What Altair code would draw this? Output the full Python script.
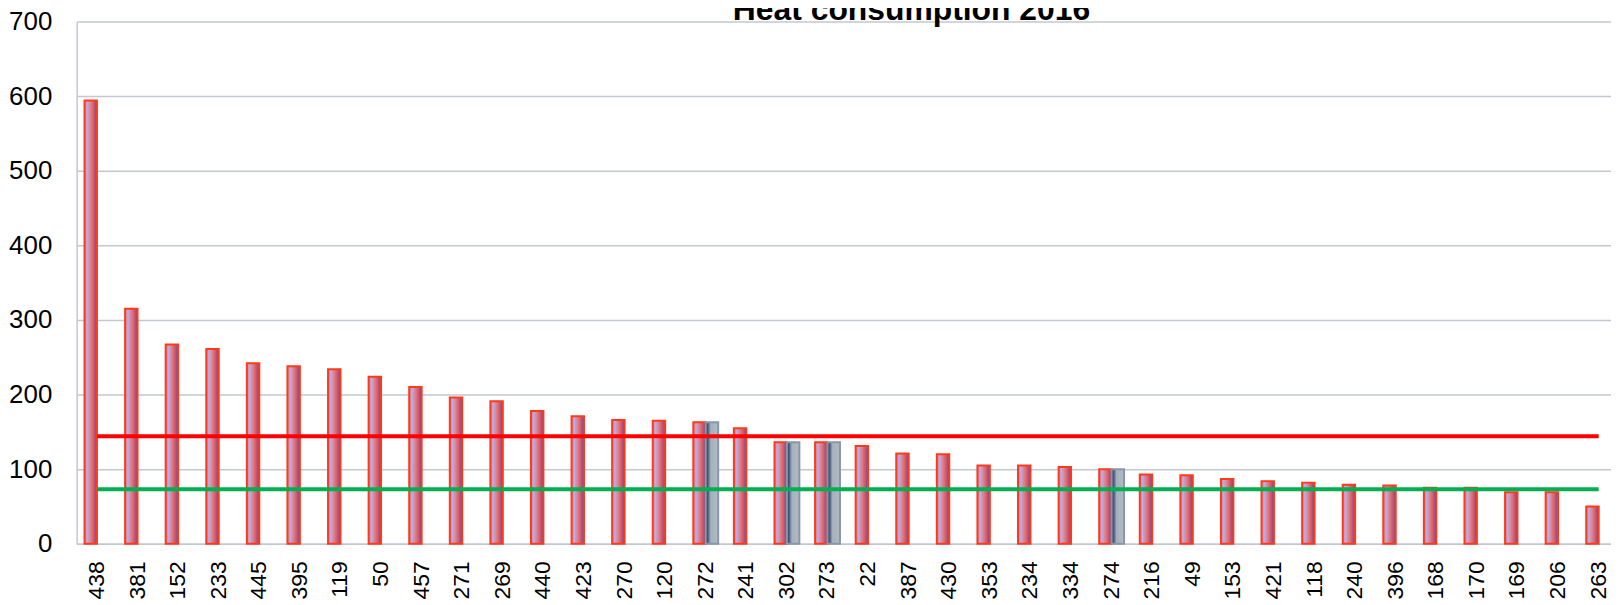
import altair as alt
import pandas as pd

# ---- data ----
buildings = ["438", "381", "152", "233", "445", "395", "119", "50", "457", "271",
             "269", "440", "423", "270", "120", "272", "241", "302", "273", "22",
             "387", "430", "353", "234", "334", "274", "216", "49", "153", "421",
             "118", "240", "396", "168", "170", "169", "206", "263"]
heat_2016 = [594, 315, 267, 261, 242, 238, 234, 224, 210, 196,
             191, 178, 171, 166, 165, 163, 155, 136, 136, 131,
             121, 120, 105, 105, 103, 100, 93, 92, 87, 84,
             82, 79, 78, 75, 75, 69, 69, 50]
second_buildings = ["272", "302", "273", "274"]
second_values = [163, 136, 136, 100]
upper_level = 144
lower_level = 73
title_text = ["Heat consumption 2016"]

FONT = "Liberation Sans"

df_main = pd.DataFrame({"building": buildings, "value": heat_2016, "series": "main"})
df_grey = pd.DataFrame({"building": second_buildings, "value": second_values, "series": "second"})
df_upper = pd.DataFrame({"building": buildings, "value": [upper_level] * len(buildings)})
df_lower = pd.DataFrame({"building": buildings, "value": [lower_level] * len(buildings)})
df_title = pd.DataFrame({"label": title_text})

grid_col = "#c3c7d2"

x_enc = alt.X(
    "building:N",
    sort=buildings,
    scale=alt.Scale(domain=buildings, range=[0, 1550], paddingInner=0.387, paddingOuter=0.1935),
    axis=alt.Axis(title=None, labelAngle=-90, labelFont=FONT, labelFontSize=23,
                  labelColor="black", ticks=False, labelPadding=17,
                  domainColor=grid_col, domainWidth=1.5, grid=False),
)
y_enc = alt.Y(
    "value:Q",
    scale=alt.Scale(domain=[0, 700], nice=False),
    axis=alt.Axis(title=None, values=[0, 100, 200, 300, 400, 500, 600, 700],
                  labelFont=FONT, labelFontSize=26, labelColor="black",
                  ticks=False, labelPadding=25, grid=True, gridColor=grid_col,
                  gridWidth=1.5, domainColor=grid_col, domainWidth=1.5),
)
xoff = alt.XOffset("series:N", scale=alt.Scale(domain=["main", "second"], paddingInner=0))

main_grad = alt.LinearGradient(
    gradient="linear", x1=0, x2=1, y1=0, y2=0,
    stops=[
        alt.GradientStop(color="#ea7868", offset=0),
        alt.GradientStop(color="#b6aef0", offset=0.22),
        alt.GradientStop(color="#e08088", offset=0.48),
        alt.GradientStop(color="#d85e6a", offset=0.7),
        alt.GradientStop(color="#6a489c", offset=1),
    ],
)
grey_grad = alt.LinearGradient(
    gradient="linear", x1=0, x2=1, y1=0, y2=0,
    stops=[
        alt.GradientStop(color="#1c3564", offset=0),
        alt.GradientStop(color="#4f6586", offset=0.2),
        alt.GradientStop(color="#a6b0bb", offset=0.4),
        alt.GradientStop(color="#b2bbc5", offset=1),
    ],
)

bars_main = alt.Chart(df_main).mark_bar(fill=main_grad, stroke="#ff3a1a", strokeWidth=2).encode(
    x=x_enc, y=y_enc, xOffset=xoff
)
bars_grey = alt.Chart(df_grey).mark_bar(fill=grey_grad, stroke="#8796a8", strokeWidth=2).encode(
    x=x_enc, y=y_enc, xOffset=xoff
)
line_upper = alt.Chart(df_upper).mark_line(color="#ff0000", strokeWidth=4).encode(x=x_enc, y=y_enc)
line_lower = alt.Chart(df_lower).mark_line(color="#00b050", strokeWidth=4).encode(x=x_enc, y=y_enc)

# chart title (partly cut at the top edge, as in the reference)
title_mark = alt.Chart(df_title).mark_text(
    font=FONT, fontSize=32, fontWeight="bold", color="black",
    align="center", baseline="alphabetic",
).encode(text="label:N", x=alt.value(839), y=alt.value(-1))

chart = alt.layer(bars_main, bars_grey, line_upper, line_lower, title_mark).properties(
    width=1542,
    height=525,
    autosize=alt.AutoSizeParams(type="none"),
    padding={"left": 69, "top": 12, "right": 0, "bottom": 60},
    background="white",
).configure_view(stroke=None)

chart.save("out.html", embed_options={"renderer": "svg", "actions": False})
